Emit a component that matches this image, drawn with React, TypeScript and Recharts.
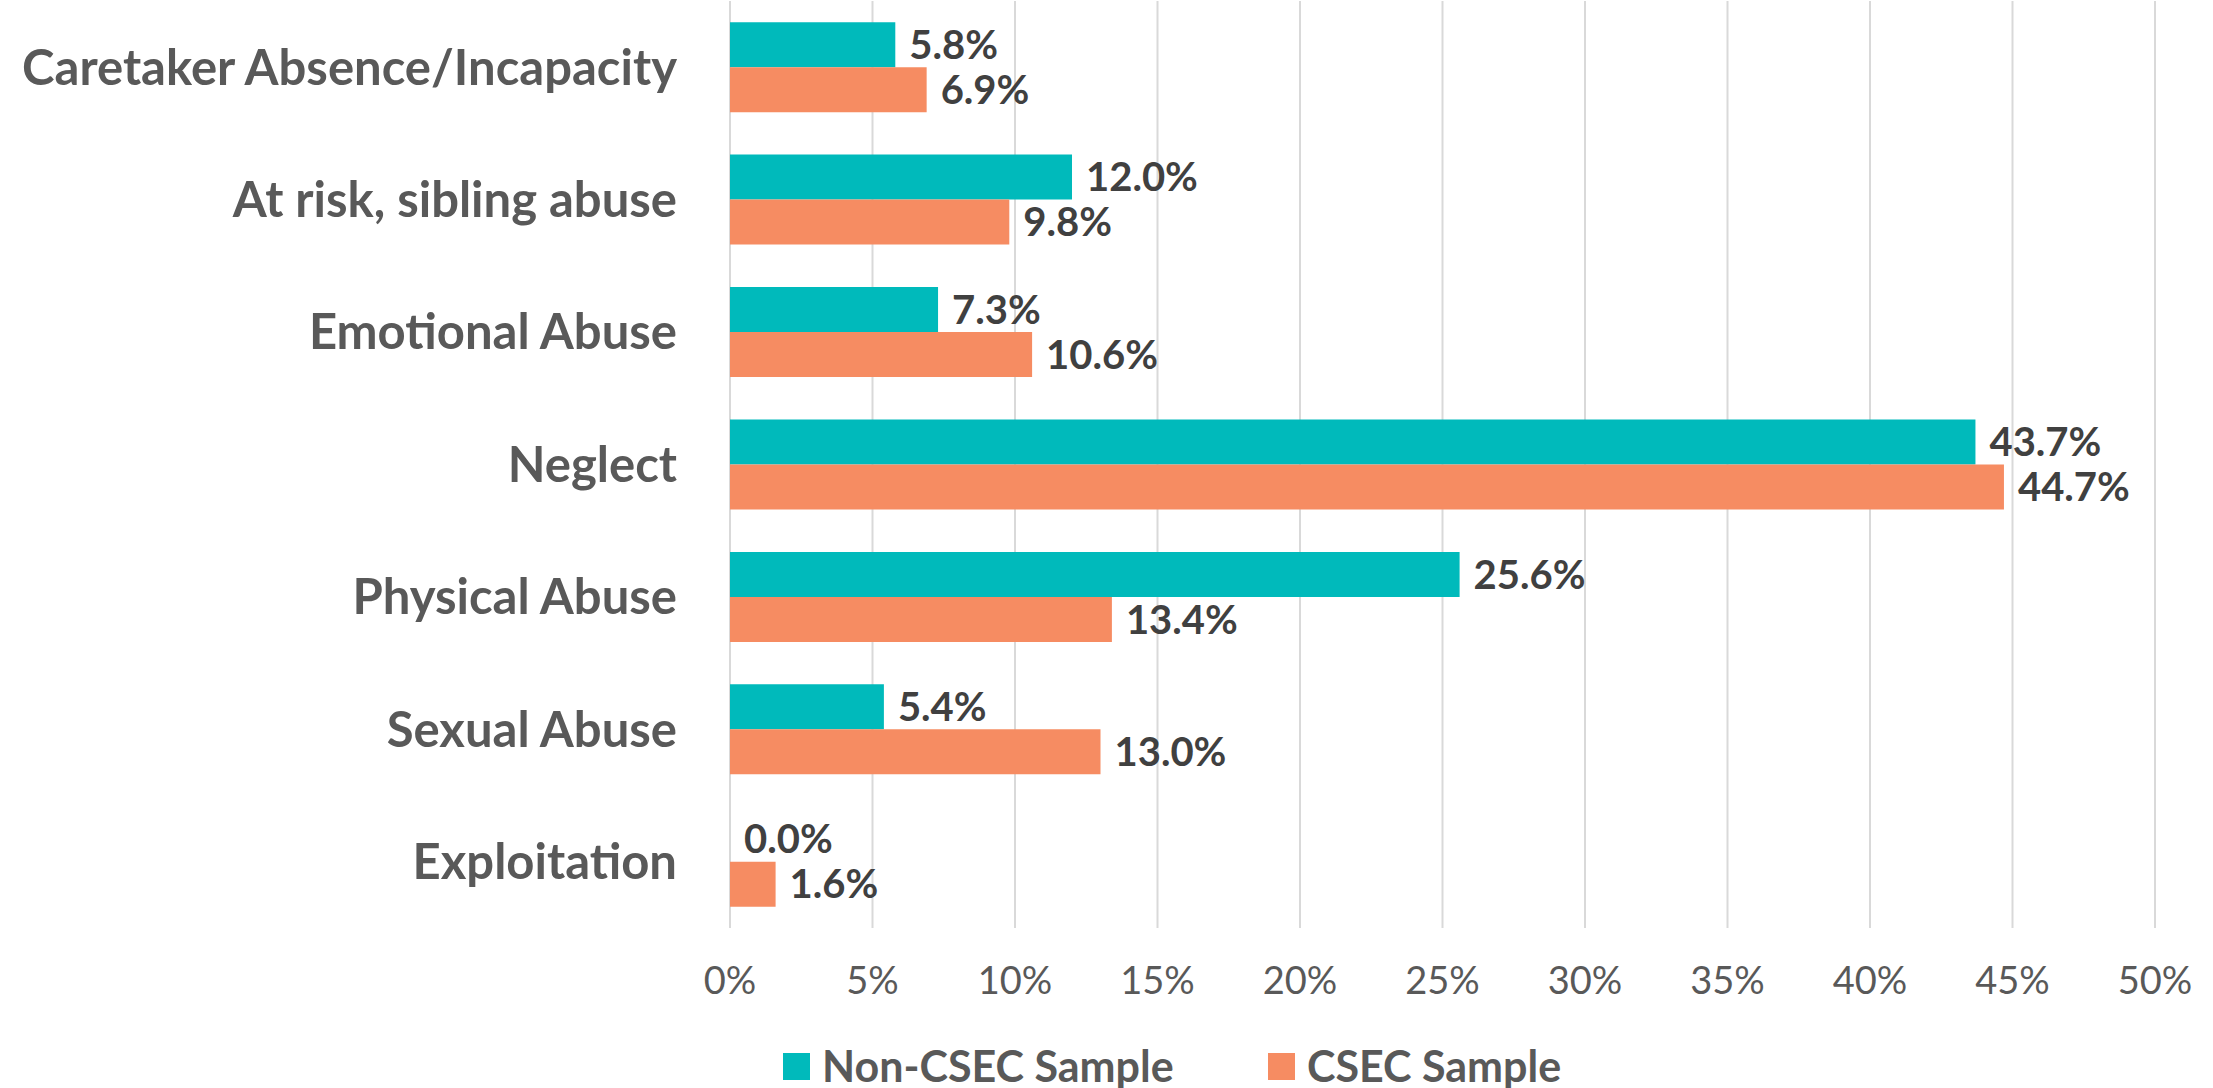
import { BarChart, Bar, XAxis, YAxis, CartesianGrid, LabelList } from "recharts";

const categories = [
  "Caretaker Absence/Incapacity",
  "At risk, sibling abuse",
  "Emotional Abuse",
  "Neglect",
  "Physical Abuse",
  "Sexual Abuse",
  "Exploitation",
];
const nonCsec = [5.8, 12.0, 7.3, 43.7, 25.6, 5.4, 0.0];
const csec = [6.9, 9.8, 10.6, 44.7, 13.4, 13.0, 1.6];
const xTicks = [0, 5, 10, 15, 20, 25, 30, 35, 40, 45, 50];

const TEAL = "#00BABB";
const ORANGE = "#F68C62";
const FONT = "Lato, 'Open Sans', sans-serif";

const data = categories.map((name, i) => ({ name, nonCsec: nonCsec[i], csec: csec[i] }));

const fmtValue = (v: any) => `${Number(v).toFixed(1)}%`;

const labelStyle = { fontSize: 40, fontWeight: 700, fill: "#404040", fontFamily: FONT };

const legendText = {
  position: "absolute" as const,
  top: 1040,
  lineHeight: "52px",
  fontSize: 43,
  fontWeight: 700,
  color: "#595959",
  fontFamily: FONT,
  whiteSpace: "nowrap" as const,
};

export default function App() {
  return (
    <div style={{ position: "absolute", left: 0, top: 0, width: 2213, height: 1088, background: "#fff" }}>
      <BarChart
        width={2213}
        height={1088}
        data={data}
        layout="vertical"
        margin={{ top: 1, right: 58, left: 0, bottom: 100 }}
        barCategoryGap="16%"
        barGap={0}
      >
        <CartesianGrid horizontal={false} stroke="#D9D9D9" strokeWidth={2} />
        <XAxis
          type="number"
          domain={[0, 50]}
          ticks={xTicks}
          tickFormatter={(v: number) => `${v}%`}
          axisLine={false}
          tickLine={false}
          tickSize={0}
          tickMargin={39}
          height={60}
          tick={{ fontSize: 38, fill: "#595959", fontFamily: FONT }}
        />
        <YAxis
          type="category"
          dataKey="name"
          width={730}
          axisLine={false}
          tickLine={false}
          tickSize={0}
          tickMargin={53}
          interval={0}
          tick={{ fontSize: 49, fill: "#595959", fontWeight: 700, fontFamily: FONT }}
        />
        <Bar dataKey="nonCsec" name="Non-CSEC Sample" fill={TEAL} minPointSize={0.01} isAnimationActive={false}>
          <LabelList dataKey="nonCsec" position="right" offset={14} formatter={fmtValue} style={labelStyle} />
        </Bar>
        <Bar dataKey="csec" name="CSEC Sample" fill={ORANGE} isAnimationActive={false}>
          <LabelList dataKey="csec" position="right" offset={14} formatter={fmtValue} style={labelStyle} />
        </Bar>
      </BarChart>
      <div style={{ position: "absolute", left: 783, top: 1053, width: 27, height: 27, background: TEAL }} />
      <div style={{ ...legendText, left: 822 }}>Non-CSEC Sample</div>
      <div style={{ position: "absolute", left: 1268, top: 1053, width: 27, height: 27, background: ORANGE }} />
      <div style={{ ...legendText, left: 1307 }}>CSEC Sample</div>
    </div>
  );
}
